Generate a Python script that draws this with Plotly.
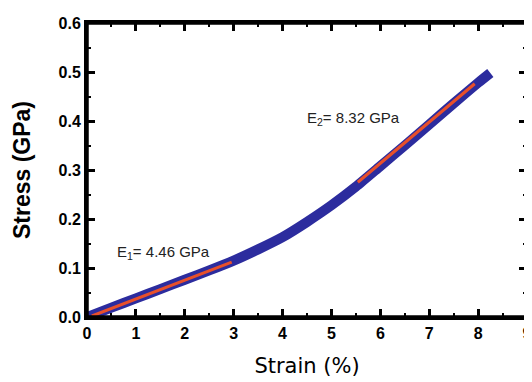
import plotly.graph_objects as go

strain = [0, 0.5, 1, 1.5, 2, 2.5, 3, 3.5, 4, 4.5, 5, 5.5, 6, 6.5, 7, 7.5, 8, 8.25]
stress = [0.0, 0.019, 0.038, 0.057, 0.076, 0.095, 0.115, 0.138, 0.163, 0.194, 0.228, 0.266, 0.308, 0.350, 0.393, 0.436, 0.478, 0.498]

fit1_x = [0.1, 2.96]
fit1_y = [0.002, 0.112]
fit2_x = [5.54, 7.93]
fit2_y = [0.275, 0.476]

x_ticks = [0, 1, 2, 3, 4, 5, 6, 7, 8, 9]
y_ticks = [0.0, 0.1, 0.2, 0.3, 0.4, 0.5, 0.6]
y_tick_labels = ["0.0", "0.1", "0.2", "0.3", "0.4", "0.5", "0.6"]

fig = go.Figure()
fig.add_trace(go.Scatter(x=strain, y=stress, mode="lines",
                         line=dict(color="#2c2c9e", width=10, shape="spline", smoothing=0.6),
                         showlegend=False))
fig.add_trace(go.Scatter(x=fit1_x, y=fit1_y, mode="lines",
                         line=dict(color="#e8502a", width=3), showlegend=False))
fig.add_trace(go.Scatter(x=fit2_x, y=fit2_y, mode="lines",
                         line=dict(color="#e8502a", width=3), showlegend=False))

fig.add_annotation(x=0.57, y=0.132, text="E<sub>1</sub>= 4.46 GPa", showarrow=False,
                   xanchor="left", yanchor="middle",
                   font=dict(family="Liberation Sans, Arial", size=15, color="#222"))
fig.add_annotation(x=4.46, y=0.405, text="E<sub>2</sub>= 8.32 GPa", showarrow=False,
                   xanchor="left", yanchor="middle",
                   font=dict(family="Liberation Sans, Arial", size=15, color="#222"))

# frame around the plot area
fig.add_shape(type="rect", xref="paper", yref="paper", x0=0, y0=0, x1=1, y1=1,
              line=dict(color="black", width=3.5), layer="above")

axis_common = dict(showline=True, linecolor="black", linewidth=3, mirror="ticks",
                   ticks="inside", ticklen=8, tickwidth=2.5, tickcolor="black",
                   showgrid=False, zeroline=False, automargin=False)

fig.update_xaxes(range=[0, 9], tickvals=x_ticks,
                 minor=dict(ticks="inside", ticklen=4, tickwidth=2, dtick=0.5, tickcolor="black"),
                 tickfont=dict(family="Liberation Sans, Arial", size=16, color="black", weight="bold"),
                 title=dict(text="Strain (%)", standoff=18,
                            font=dict(family="DejaVu Sans", size=21, color="black")),
                 **axis_common)
fig.update_yaxes(range=[0, 0.6], tickvals=y_ticks, ticktext=y_tick_labels,
                 minor=dict(ticks="inside", ticklen=4, tickwidth=2, dtick=0.05, tickcolor="black"),
                 tickfont=dict(family="Liberation Sans, Arial", size=16, color="black", weight="bold"),
                 title=dict(text="Stress (GPa)", standoff=22,
                            font=dict(family="Liberation Sans, Arial", size=23, color="black", weight="bold")),
                 **axis_common)

fig.update_layout(width=524, height=374, margin=dict(l=79, r=5, t=15, b=65),
                  plot_bgcolor="white", paper_bgcolor="white")

fig.write_html("out.html")
